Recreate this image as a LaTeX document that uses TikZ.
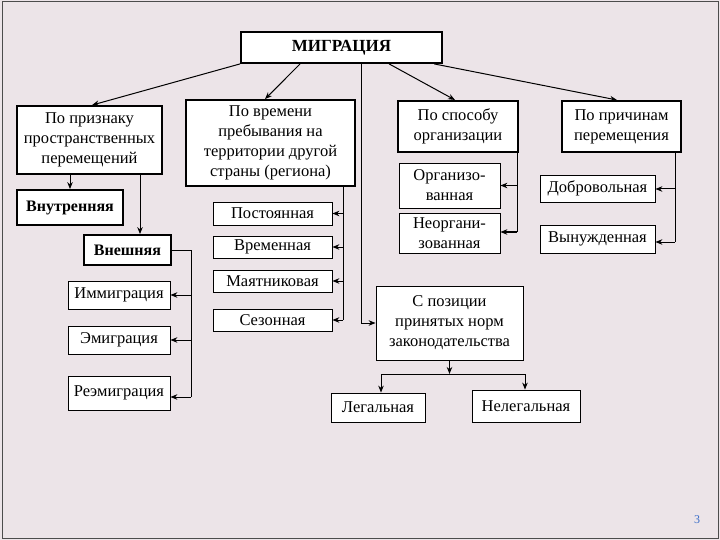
\documentclass[tikz,border=0pt]{standalone}
\usepackage{fontspec}
\setmainfont{Liberation Serif}
\usetikzlibrary{arrows.meta}
\begin{document}
\begin{tikzpicture}[x=1pt,y=-1pt,
  thick box/.style={draw=black,line width=1.8pt,fill=white,align=center,inner sep=0pt,font=\fontsize{16.5}{20}\selectfont},
  thin box/.style={draw=black,line width=0.8pt,fill=white,align=center,inner sep=0pt,font=\fontsize{16.5}{20}\selectfont},
  conn/.style={line width=1pt,-{Stealth[length=7pt,width=5.5pt]}},
  plain/.style={line width=1pt}]
\fill[fill={rgb,255:red,236;green,228;blue,232}] (0,0) rectangle (720,540);
\draw[line width=1pt,black!70] (2,2) rectangle (718,538);
\useasboundingbox (0,0) rectangle (720,540);
% boxes
\node[thick box,minimum width=201,minimum height=31,font=\bfseries\fontsize{17}{20}\selectfont] (mig) at (341.5,47.5) {МИГРАЦИЯ};
\node[thick box,minimum width=145,minimum height=68] (prizn) at (89.5,140) {По признаку\\пространственных\\перемещений};
\node[thick box,minimum width=106,minimum height=35,font=\bfseries\fontsize{16}{20}\selectfont] (vnut) at (70,207.5) {Внутренняя};
\node[thick box,minimum width=87,minimum height=30,font=\bfseries\fontsize{16}{20}\selectfont] (vnesh) at (127.5,250) {Внешняя};
\node[thin box,minimum width=102,minimum height=28] (imm) at (119,295) {Иммиграция};
\node[thin box,minimum width=102,minimum height=28] (emi) at (119,340) {Эмиграция};
\node[thin box,minimum width=102,minimum height=34] (reemi) at (119,393) {Реэмиграция};
\node[thick box,minimum width=169,minimum height=86] (vrem) at (270.5,143) {По времени\\пребывания на\\территории другой\\страны (региона)};
\node[thin box,minimum width=119,minimum height=23] (post) at (272.5,213.5) {Постоянная};
\node[thin box,minimum width=119,minimum height=22] (vr) at (272.5,247) {Временная};
\node[thin box,minimum width=119,minimum height=22] (maya) at (272.5,281) {Маятниковая};
\node[thin box,minimum width=119,minimum height=22] (sez) at (272.5,320) {Сезонная};
\node[thick box,minimum width=120,minimum height=51] (spos) at (458,126.5) {По способу\\организации};
\node[thin box,minimum width=101,minimum height=45] (org) at (449.5,185.5) {Организо-\\ванная};
\node[thin box,minimum width=101,minimum height=40] (neorg) at (449.5,233) {Неоргани-\\зованная};
\node[thick box,minimum width=119,minimum height=51] (prich) at (621.5,126.5) {По причинам\\перемещения};
\node[thin box,minimum width=115,minimum height=27] (dobr) at (597.5,188.5) {Добровольная};
\node[thin box,minimum width=115,minimum height=28] (vyn) at (597.5,239) {Вынужденная};
\node[thin box,minimum width=147,minimum height=74] (pozic) at (449.5,323) {С позиции\\принятых норм\\законодательства};
\node[thin box,minimum width=94,minimum height=29] (leg) at (378,407.5) {Легальная};
\node[thin box,minimum width=108,minimum height=32] (neleg) at (526,406) {Нелегальная};
\node[font=\fontsize{12}{13}\selectfont,text={rgb,255:red,60;green,110;blue,200}] (pg) at (697,520) {3};
% connectors from МИГРАЦИЯ
\draw[conn] (mig.south west) -- (prizn.north -| 92,0);
\draw[conn] (mig.south west) ++(60,0) -- (vrem.north -| 265,0);
\draw[conn] (mig.south west) ++(149,0) -- (455,100);
\draw[conn] (mig.south west) ++(194,0) -- (617,100);
\coordinate (m1) at (361,63);
\draw[conn] (m1) |- (pozic.west);
% По признаку
\draw[conn] (prizn.south -| vnut.north) -- (vnut.north);
\draw[conn] (prizn.south -| 140,0) -- (vnesh.north -| 140,0);
\coordinate (a1) at (191,397);
\draw[plain] (vnesh.east) -| (a1);
\draw[conn] (191,295) -- (imm.east);
\draw[conn] (191,340) -- (emi.east);
\draw[conn] (a1) -- (reemi.east |- a1);
% По времени
\coordinate (b1) at (343,320);
\draw[plain] (vrem.south -| b1) -- (b1);
\draw[conn] (343,213.5) -- (post.east);
\draw[conn] (343,247) -- (vr.east);
\draw[conn] (343,281) -- (maya.east);
\draw[conn] (b1) -- (sez.east);
% По способу
\coordinate (c1) at (517,232);
\draw[plain] (spos.south -| c1) -- (c1);
\draw[conn] (517,185.5) -- (org.east);
\draw[conn] (c1) -- (neorg.east |- c1);
% По причинам
\coordinate (d1) at (675,242);
\draw[plain] (prich.south -| d1) -- (d1);
\draw[conn] (675,189) -- (dobr.east |- 0,189);
\draw[conn] (d1) -- (vyn.east |- d1);
% С позиции
\coordinate (e1) at (449.5,374);
\draw[conn] (pozic.south) -- (e1);
\draw[plain] (381,374) -- (525,374);
\draw[conn] (381,374) -- (leg.north -| 381,0);
\draw[conn] (525,374) -- (neleg.north -| 525,0);
\end{tikzpicture}
\end{document}
